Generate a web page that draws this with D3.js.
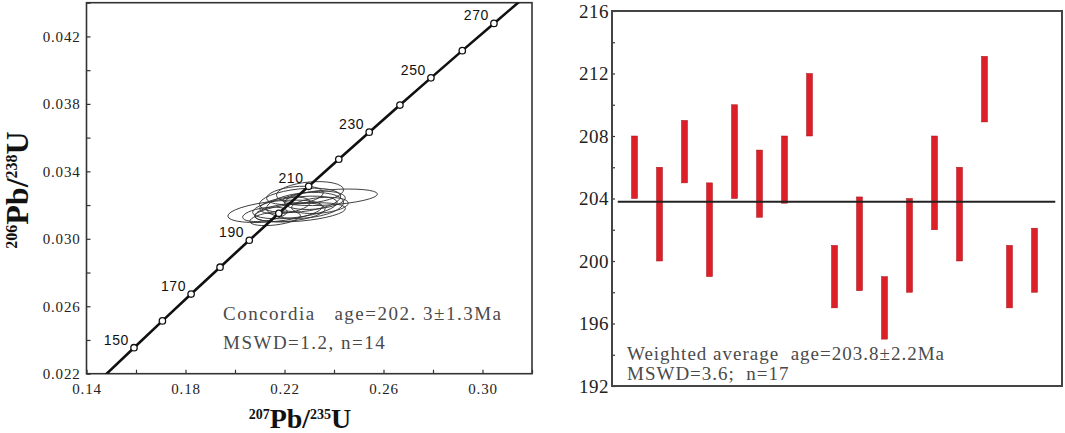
<!DOCTYPE html>
<html>
<head>
<meta charset="utf-8">
<script src="https://cdn.jsdelivr.net/npm/d3@7"></script>
<style>
  body { margin: 0; background: #fff; }
  svg { display: block; }
  text { white-space: pre; }
</style>
</head>
<body>
<svg id="chart" width="1065" height="433"></svg>
<script>
// ---- data ----
// concordia points (age in Ma, 207Pb/235U, 206Pb/238U)
const concAges = [140, 150, 160, 170, 180, 190, 200, 210, 220, 230, 240, 250, 260, 270, 280];
const concX = [0.14784, 0.15920, 0.17067, 0.18226, 0.19396, 0.20577, 0.21771, 0.22976,
  0.24193, 0.25422, 0.26664, 0.27917, 0.29183, 0.30462, 0.31753];
const concY = [0.021955, 0.023542, 0.025131, 0.026722, 0.028316, 0.029912, 0.031511, 0.033113,
  0.034716, 0.036323, 0.037932, 0.039543, 0.041157, 0.042773, 0.044392];
const markerAges = [150, 160, 170, 180, 190, 200, 210, 220, 230, 240, 250, 260, 270];
const labelAges = [150, 170, 190, 210, 230, 250, 270];

// error ellipses of the 14 analyses
const ellCx = [0.2162, 0.2384, 0.2303, 0.2263, 0.2242, 0.2222, 0.2283, 0.2202, 0.2323, 0.2263, 0.2121, 0.2343, 0.2242, 0.2162];
const ellCy = [0.03163, 0.03246, 0.03275, 0.03228, 0.03186, 0.03157, 0.03198, 0.03198, 0.03228, 0.03157, 0.03145, 0.03198, 0.03257, 0.03121];
const ellRx = [0.0192, 0.0192, 0.0136, 0.0165, 0.0172, 0.0143, 0.0156, 0.0103, 0.0123, 0.0184, 0.0091, 0.0115, 0.0115, 0.0103];
const ellRy = [0.00060, 0.00045, 0.00062, 0.00068, 0.00060, 0.00052, 0.00075, 0.00046, 0.00052, 0.00052, 0.00039, 0.00046, 0.00052, 0.00039];
const ellTilt = [-6, -4, -5, -6, -7, -6, -5, -8, -5, -5, -8, -5, -6, -7];

const xTicksLeft = [0.14, 0.16, 0.18, 0.20, 0.22, 0.24, 0.26, 0.28, 0.30, 0.32];
const xLabelsLeft = [0.14, 0.18, 0.22, 0.26, 0.30];
const yTicksLeft = [0.022, 0.024, 0.026, 0.028, 0.030, 0.032, 0.034, 0.036, 0.038, 0.040, 0.042, 0.044];
const yLabelsLeft = [0.022, 0.026, 0.030, 0.034, 0.038, 0.042];

// weighted mean plot: 17 age bars (Ma)
const barLow = [204.0, 200.0, 205.0, 199.0, 204.0, 202.8, 203.7, 208.0, 197.0, 198.1, 195.0, 198.0, 202.0, 200.0, 208.9, 197.0, 198.0];
const barHigh = [208.0, 206.0, 209.0, 205.0, 210.0, 207.1, 208.0, 212.0, 201.0, 204.1, 199.0, 204.0, 208.0, 206.0, 213.1, 201.0, 202.1];
const meanAge = 203.8;
const yTicksRight = [192, 194, 196, 198, 200, 202, 204, 206, 208, 210, 212, 214, 216];
const yLabelsRight = [192, 196, 200, 204, 208, 212, 216];

const svg = d3.select("#chart");
const serif = "'Liberation Serif', 'Times New Roman', serif";
const sans = "'Liberation Sans', Arial, sans-serif";

// ---- left panel: concordia ----
const L = { left: 86.5, right: 532, top: 2.7, bottom: 373.7 };
const xL = d3.scaleLinear().domain([0.14, 0.32]).range([L.left, L.right]);
const yL = d3.scaleLinear().domain([0.022, 0.044]).range([L.bottom, L.top]);

svg.append("clipPath").attr("id", "clipL")
  .append("rect")
  .attr("x", L.left).attr("y", L.top)
  .attr("width", L.right - L.left).attr("height", L.bottom - L.top);

const isIn = (arr, v) => arr.some((a) => Math.abs(a - v) < 1e-9);

svg.append("g")
  .attr("transform", `translate(0,${L.bottom})`)
  .attr("font-family", serif)
  .call(d3.axisBottom(xL).tickValues(xTicksLeft).tickSize(-4).tickSizeOuter(0).tickPadding(10)
    .tickFormat((d) => (isIn(xLabelsLeft, d) ? d3.format(".2f")(d) : "")))
  .call((g) => g.select(".domain").remove())
  .call((g) => g.selectAll("line").attr("stroke", "#333").attr("stroke-width", 1.2))
  .call((g) => g.selectAll("text").attr("fill", "#222").style("font-family", serif)
    .style("font-size", "15px").style("letter-spacing", "0.8px"));

svg.append("g")
  .attr("transform", `translate(${L.left},0)`)
  .attr("font-family", serif)
  .call(d3.axisLeft(yL).tickValues(yTicksLeft).tickSize(-4).tickSizeOuter(0).tickPadding(6)
    .tickFormat((d) => (isIn(yLabelsLeft, d) ? d3.format(".3f")(d) : "")))
  .call((g) => g.select(".domain").remove())
  .call((g) => g.selectAll("line").attr("stroke", "#333").attr("stroke-width", 1.2))
  .call((g) => g.selectAll("text").attr("fill", "#222").style("font-family", serif)
    .style("font-size", "15px").style("letter-spacing", "0.8px"));

svg.append("rect")
  .attr("x", L.left).attr("y", L.top)
  .attr("width", L.right - L.left).attr("height", L.bottom - L.top)
  .attr("fill", "none").attr("stroke", "#333").attr("stroke-width", 1.6);

const plotL = svg.append("g").attr("clip-path", "url(#clipL)");

// ellipses
const ellG = plotL.append("g");
ellCx.forEach((cx, i) => {
  const px = xL(cx), py = yL(ellCy[i]);
  ellG.append("ellipse")
    .attr("cx", 0).attr("cy", 0)
    .attr("rx", xL(cx + ellRx[i]) - px)
    .attr("ry", py - yL(ellCy[i] + ellRy[i]))
    .attr("transform", `translate(${px},${py}) rotate(${ellTilt[i]})`)
    .attr("fill", "none").attr("stroke", "#333").attr("stroke-width", 0.9);
});

// concordia curve
const concData = concAges.map((a, i) => ({ age: a, x: concX[i], y: concY[i] }));
plotL.append("path")
  .datum(concData)
  .attr("fill", "none").attr("stroke", "#111").attr("stroke-width", 2.6)
  .attr("d", d3.line().x((d) => xL(d.x)).y((d) => yL(d.y)).curve(d3.curveMonotoneX));

const markers = concData.filter((d) => markerAges.includes(d.age));
plotL.selectAll(".mk").data(markers).join("circle")
  .attr("cx", (d) => xL(d.x)).attr("cy", (d) => yL(d.y)).attr("r", 3.2)
  .attr("fill", "#fff").attr("stroke", "#111").attr("stroke-width", 1.3);

svg.selectAll(".agelab").data(concData.filter((d) => labelAges.includes(d.age))).join("text")
  .attr("x", (d) => xL(d.x) - 5).attr("y", (d) => yL(d.y) - 3)
  .attr("text-anchor", "end")
  .style("font-family", sans).style("font-size", "14px").style("letter-spacing", "0.6px")
  .attr("fill", "#111")
  .text((d) => d.age);

// annotation
svg.append("text").attr("x", 223).attr("y", 320)
  .style("font-family", serif).style("font-size", "19px").style("letter-spacing", "1.5px")
  .attr("fill", "#4a4a4a")
  .text("Concordia   age=202. 3±1.3Ma");
svg.append("text").attr("x", 223).attr("y", 348.5)
  .style("font-family", serif).style("font-size", "19px").style("letter-spacing", "1.5px")
  .attr("fill", "#4a4a4a")
  .text("MSWD=1.2, n=14");

// axis titles
function isoTitle(sel, supA, supB, big, small) {
  const up = (big - small) * 0.66;
  sel.style("font-family", serif).style("font-weight", "bold").attr("fill", "#111");
  sel.append("tspan").style("font-size", small + "px").attr("dy", -up).text(supA);
  sel.append("tspan").style("font-size", big + "px").attr("dy", up).text("Pb/");
  sel.append("tspan").style("font-size", small + "px").attr("dy", -up).text(supB);
  sel.append("tspan").style("font-size", big + "px").attr("dy", up).text("U");
}
isoTitle(svg.append("text").attr("x", 300).attr("y", 428).attr("text-anchor", "middle"),
  "207", "235", 28, 14);
isoTitle(svg.append("text").attr("text-anchor", "middle")
  .attr("transform", "translate(28,190) rotate(-90)"), "206", "238", 32, 16);

// ---- right panel: weighted mean ----
const R = { left: 612, right: 1062, top: 11, bottom: 386 };
const xR = d3.scaleLinear().domain([0.1, 18.1]).range([R.left, R.right]);
const yR = d3.scaleLinear().domain([192, 216]).range([R.bottom, R.top]);

svg.append("g")
  .attr("transform", `translate(${R.left},0)`)
  .attr("font-family", serif)
  .call(d3.axisLeft(yR).tickValues(yTicksRight).tickSize(-3).tickSizeOuter(0).tickPadding(3)
    .tickFormat((d) => (yLabelsRight.includes(d) ? d : "")))
  .call((g) => g.select(".domain").remove())
  .call((g) => g.selectAll("line").attr("stroke", "#333").attr("stroke-width", 1.2))
  .call((g) => g.selectAll("text").attr("fill", "#222").style("font-family", serif)
    .style("font-size", "19px").style("letter-spacing", "0.5px"));

const barData = barLow.map((lo, i) => ({ i: i + 1, lo, hi: barHigh[i] }));
svg.selectAll(".bar").data(barData).join("rect")
  .attr("x", (d) => xR(d.i) - 3)
  .attr("width", 6)
  .attr("y", (d) => yR(d.hi))
  .attr("height", (d) => yR(d.lo) - yR(d.hi))
  .attr("fill", "#dc1f28")
  .attr("stroke", "#a3161c").attr("stroke-width", 0.5);

svg.append("line")
  .attr("x1", xR(0.33)).attr("x2", xR(17.83))
  .attr("y1", yR(meanAge)).attr("y2", yR(meanAge))
  .attr("stroke", "#222").attr("stroke-width", 2);

svg.append("rect")
  .attr("x", R.left).attr("y", R.top)
  .attr("width", R.right - R.left).attr("height", R.bottom - R.top)
  .attr("fill", "none").attr("stroke", "#444").attr("stroke-width", 2);

svg.append("text").attr("x", 627).attr("y", 359.5)
  .style("font-family", serif).style("font-size", "19px").style("letter-spacing", "1px")
  .attr("fill", "#4a4a4a")
  .text("Weighted average  age=203.8±2.2Ma");
svg.append("text").attr("x", 627).attr("y", 380)
  .style("font-family", serif).style("font-size", "19px").style("letter-spacing", "1px")
  .attr("fill", "#4a4a4a")
  .text("MSWD=3.6;  n=17");
</script>
</body>
</html>
